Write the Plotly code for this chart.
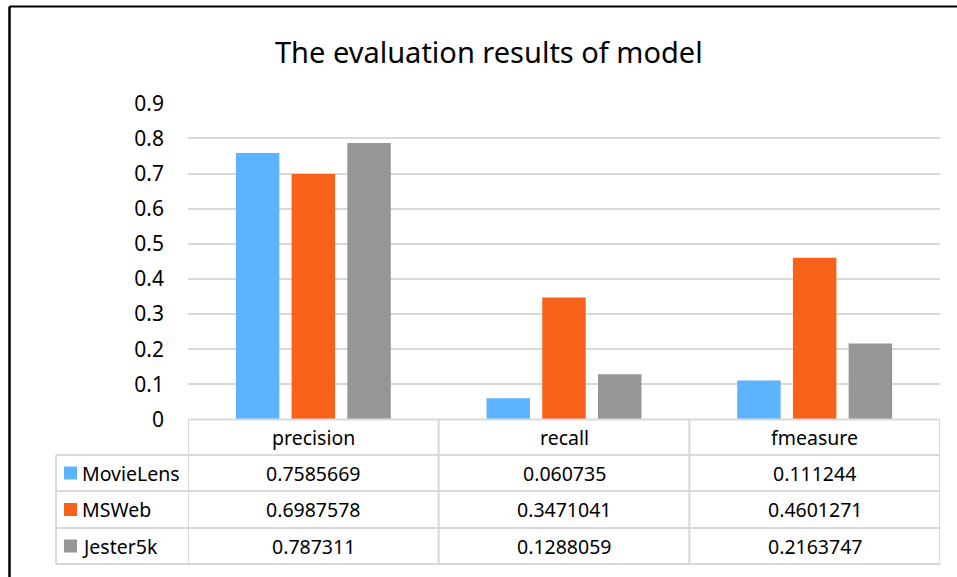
import plotly.graph_objects as go

categories = ["precision", "recall", "fmeasure"]
series_names = ["MovieLens", "MSWeb", "Jester5k"]
movielens = [0.7585669, 0.060735, 0.111244]
msweb = [0.6987578, 0.3471041, 0.4601271]
jester5k = [0.787311, 0.1288059, 0.2163747]
movielens_text = ["0.7585669", "0.060735", "0.111244"]
msweb_text = ["0.6987578", "0.3471041", "0.4601271"]
jester5k_text = ["0.787311", "0.1288059", "0.2163747"]
tick_vals = [0, 0.1, 0.2, 0.3, 0.4, 0.5, 0.6, 0.7, 0.8, 0.9]
tick_text = ["0", "0.1", "0.2", "0.3", "0.4", "0.5", "0.6", "0.7", "0.8", "0.9"]
title_text = "The evaluation results of model"

colors = ["#5EB3FF", "#F8611A", "#969696"]
values = [movielens, msweb, jester5k]
texts = [movielens_text, msweb_text, jester5k_text]

W, H = 957, 577
FONT = "Noto Sans"
GRID = "#D9D9D9"


def px(x):
    return x / W


def py(y):
    return (H - y) / H


fig = go.Figure()
for name, vals, col in zip(series_names, values, colors):
    fig.add_trace(go.Bar(x=categories, y=vals, name=name, marker=dict(color=col, line=dict(width=0))))

shapes = []
annotations = []

# outer black frame (top and left visible)
shapes.append(dict(type="line", xref="paper", yref="paper", x0=px(9.5), x1=px(960), y0=py(6.5), y1=py(6.5),
                   line=dict(color="black", width=2.2)))
shapes.append(dict(type="line", xref="paper", yref="paper", x0=px(9.5), x1=px(9.5), y0=py(6.5), y1=py(590),
                   line=dict(color="black", width=2.5)))

# table geometry
row_lines = [419.5, 455, 491, 528, 564]
left_x = 56
shapes.append(dict(type="line", xref="x", yref="paper", x0=-0.5, x1=2.5, y0=py(row_lines[0]), y1=py(row_lines[0]),
                   line=dict(color=GRID, width=2)))
for yl in row_lines[1:]:
    shapes.append(dict(type="line", xref="paper", yref="paper", x0=px(left_x), x1=px(940), y0=py(yl), y1=py(yl),
                       line=dict(color=GRID, width=2)))
for xv in [-0.5, 0.5, 1.5, 2.5]:
    shapes.append(dict(type="line", xref="x", yref="paper", x0=xv, x1=xv, y0=py(row_lines[0]), y1=py(row_lines[-1]),
                       line=dict(color=GRID, width=2)))
shapes.append(dict(type="line", xref="paper", yref="paper", x0=px(left_x), x1=px(left_x), y0=py(row_lines[1]),
                   y1=py(row_lines[-1]), line=dict(color=GRID, width=2)))

tfont = dict(family=FONT, size=19.5, color="black")
hy = (row_lines[0] + row_lines[1]) / 2
for c in categories:
    annotations.append(dict(x=c, xref="x", y=py(hy), yref="paper", text=c, showarrow=False, font=tfont,
                            xanchor="center", yanchor="middle"))
for i, (name, col, tx) in enumerate(zip(series_names, colors, texts)):
    cy = (row_lines[i + 1] + row_lines[i + 2]) / 2
    shapes.append(dict(type="rect", xref="paper", yref="paper", x0=px(64), x1=px(77), y0=py(cy - 6.5), y1=py(cy + 6.5),
                       fillcolor=col, line=dict(width=0)))
    annotations.append(dict(x=px(80), xref="paper", y=py(cy), yref="paper", text=name, showarrow=False, font=tfont,
                            xanchor="left", yanchor="middle"))
    for c, t in zip(categories, tx):
        annotations.append(dict(x=c, xref="x", y=py(cy), yref="paper", text=t, showarrow=False, font=tfont,
                                xanchor="center", yanchor="middle"))

annotations.append(dict(x=px(489), xref="paper", y=py(51), yref="paper", text=title_text, showarrow=False,
                        font=dict(family=FONT, size=29, color="black"), xanchor="center", yanchor="middle"))

fig.update_layout(
    width=W, height=H,
    margin=dict(l=0, r=0, t=0, b=0, pad=0, autoexpand=False),
    paper_bgcolor="white", plot_bgcolor="white",
    showlegend=False,
    barmode="group", bargap=0.333, bargroupgap=0.22,
    font=dict(family=FONT, size=19, color="black"),
    shapes=shapes, annotations=annotations,
    xaxis=dict(domain=[px(188), px(940)], range=[-0.5, 2.5], showticklabels=False, showgrid=False,
               zeroline=False, showline=False, ticks="", automargin=False),
    yaxis=dict(domain=[py(419.5), py(103.3)], range=[0, 0.9], tickvals=tick_vals, ticktext=tick_text,
               showgrid=True, gridcolor=GRID, gridwidth=1.5, zeroline=False, showline=False, automargin=False,
               ticks="", ticklabelstandoff=23, tickfont=dict(family=FONT, size=21, color="black")),
)

fig.write_html("out.html", config={"displayModeBar": False},
               post_script="document.body.style.margin='0px';")
